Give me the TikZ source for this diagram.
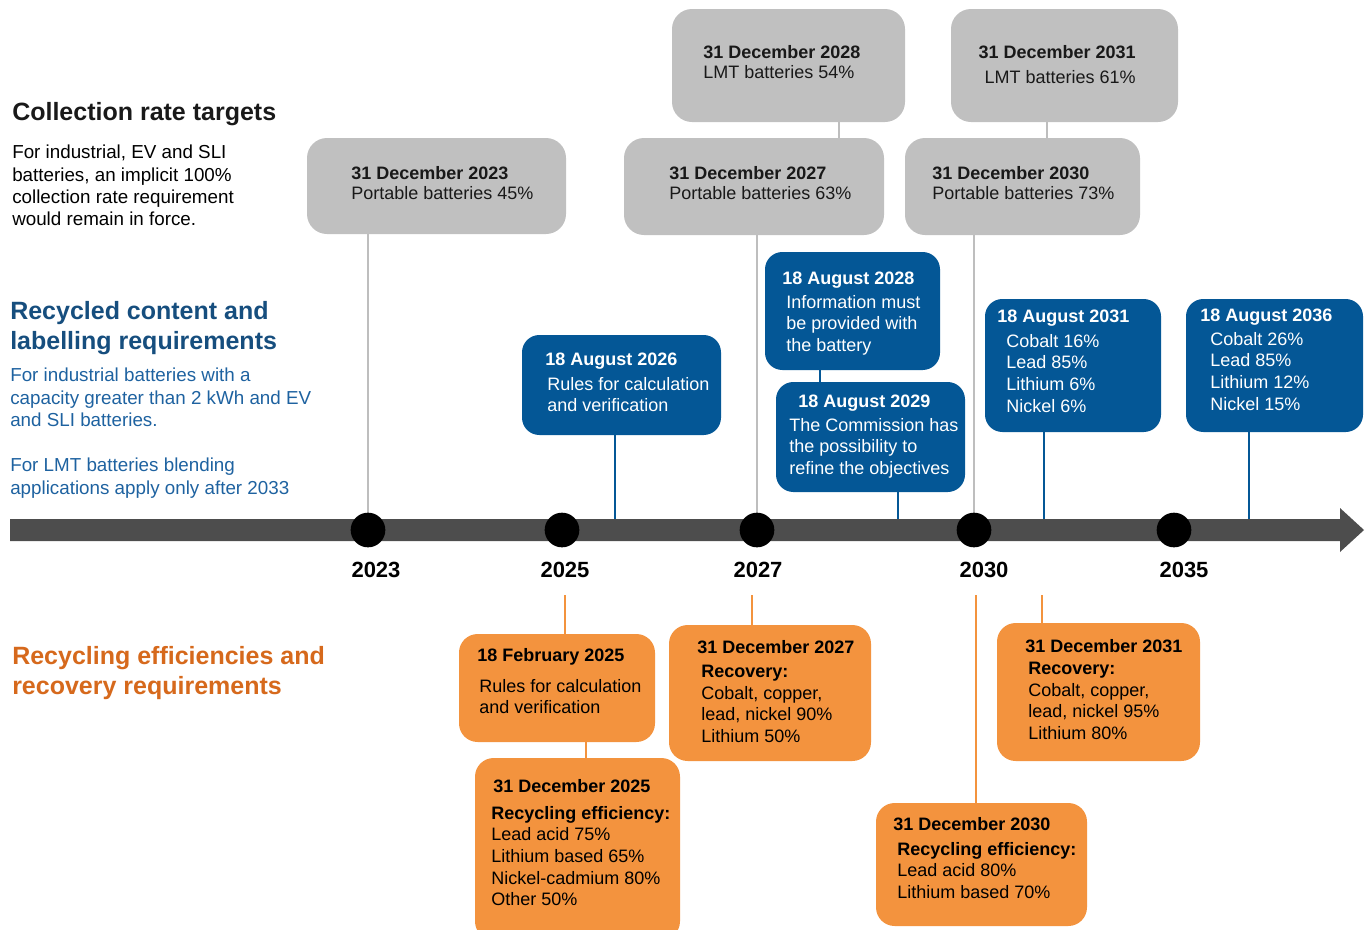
\documentclass[tikz,border=0pt]{standalone}
\usepackage{fontspec}
\setmainfont{Liberation Sans}
\usetikzlibrary{fit}
\definecolor{boxgray}{RGB}{192,192,192}
\definecolor{linegray}{RGB}{190,190,190}
\definecolor{boxblue}{RGB}{4,87,150}
\definecolor{boxorange}{RGB}{243,147,62}
\definecolor{headblue}{RGB}{22,78,126}
\definecolor{textblue}{RGB}{30,98,160}
\definecolor{headorange}{RGB}{214,105,28}
\definecolor{axisgray}{RGB}{77,77,77}
\definecolor{darktext}{RGB}{25,25,25}
\newcommand\fbody{\fontsize{13.5pt}{16.25pt}\selectfont}
\newcommand\fgraybox{\fontsize{13.5pt}{15pt}\selectfont}
\newcommand\fleft{\fontsize{14.1pt}{16.75pt}\selectfont}
\newcommand\fhead{\fontsize{18.75pt}{22.5pt}\selectfont\bfseries}
\newcommand\fyear{\fontsize{16.5pt}{18pt}\selectfont\bfseries}
\tikzset{
  rbox/.style={draw=none, inner sep=0pt, rounded corners=15pt},
  gbox/.style={rbox, fill=boxgray},
  bbox/.style={rbox, fill=boxblue, rounded corners=13pt},
  obox/.style={rbox, fill=boxorange, rounded corners=14pt},
  tx/.style={anchor=north west, inner sep=0pt, align=left, font=\fbody},
  gtx/.style={tx, font=\fgraybox, text=darktext},
  wtitle/.style={tx, font=\fbody\bfseries, text=white},
  wbody/.style={tx, text=white},
  ktitle/.style={tx, font=\fbody\bfseries, text=black},
  kbody/.style={tx, text=black},
  gline/.style={draw=linegray, line width=1.5pt},
  bline/.style={draw=boxblue, line width=1.5pt},
  oline/.style={draw=boxorange, line width=1.8pt},
  dot/.style={circle, fill=black, minimum size=26pt, inner sep=0pt},
  year/.style={inner sep=0pt, font=\fyear, text=black},
}
\begin{document}
\begin{tikzpicture}[x=0.75pt, y=-0.75pt]
\useasboundingbox (0,0) rectangle (1371,929);

% ---------- left column texts
\node[tx, font=\fhead, text=darktext] (h1) at (12,102) {Collection rate targets};
\node[tx, font=\fleft, text=black] (p1) at (12,145) {For industrial, EV and SLI\\batteries, an implicit 100\%\\collection rate requirement\\would remain in force.};
\node[tx, font=\fhead, text=headblue] (h2) at (10,301) {Recycled content and\\labelling requirements};
\node[tx, font=\fleft, text=textblue] (p2) at (10,368) {For industrial batteries with a\\capacity greater than 2 kWh and EV\\and SLI batteries.};
\node[tx, font=\fleft, text=textblue] (p3) at (10,458) {For LMT batteries blending\\applications apply only after 2033};
\node[tx, font=\fhead, text=headorange] (h3) at (12,646) {Recycling efficiencies and\\recovery requirements};

% ---------- dots (positions)
\coordinate (c23) at (368,530);
\coordinate (c25) at (562,530);
\coordinate (c27) at (757,530);
\coordinate (c30) at (974,530);
\coordinate (c35) at (1174,530);

% ---------- gray boxes
\node[gbox, fit={(307,138) (566,234)}] (g23) {};
\node[gbox, fit={(624,138) (884,235)}] (g27) {};
\node[gbox, fit={(672,9) (905,122)}] (g28) {};
\node[gbox, fit={(905,138) (1140,235)}] (g30) {};
\node[gbox, fit={(951,9) (1178,122)}] (g31) {};
\node[gtx] (t23) at (351,166) {\textbf{31 December 2023}\\Portable batteries 45\%};
\node[gtx] (t27) at (669,166) {\textbf{31 December 2027}\\Portable batteries 63\%};
\node[gtx] (t28) at (703,45) {\textbf{31 December 2028}\\LMT batteries 54\%};
\node[gtx] (t30) at (932,166) {\textbf{31 December 2030}\\Portable batteries 73\%};
\node[gtx, anchor=north east, align=right] (t31) at (1136,45) {\textbf{31 December 2031}\\[3.75pt]LMT batteries 61\%};

% ---------- blue boxes
\node[bbox, fit={(522,335) (721,435)}] (a26) {};
\node[bbox, fit={(765,252) (940,370)}] (a28) {};
\node[bbox, fit={(776,382) (965,492)}] (a29) {};
\node[bbox, fit={(985,299) (1161,432)}] (a31) {};
\node[bbox, fit={(1186,299) (1363,432)}] (a36) {};
\node[wtitle] (a26t) at (545,353) {18 August 2026};
\node[wbody] (a26b) at (547,377) {Rules for calculation\\and verification};
\node[wtitle] (a28t) at (782,272) {18 August 2028};
\node[wbody] (a28b) at (786,295) {Information must\\be provided with\\the battery};
\node[wtitle] (a29t) at (798,395) {18 August 2029};
\node[wbody] (a29b) at (789,418) {The Commission has\\the possibility to\\refine the objectives};
\node[wtitle] (a31t) at (997,310) {18 August 2031};
\node[wbody] (a31b) at (1006,334) {Cobalt 16\%\\Lead 85\%\\Lithium 6\%\\Nickel 6\%};
\node[wtitle] (a36t) at (1200,309) {18 August 2036};
\node[wbody] (a36b) at (1210,332) {Cobalt 26\%\\Lead 85\%\\Lithium 12\%\\Nickel 15\%};

% ---------- orange boxes
\node[obox, fit={(459,634) (655,742)}] (f25) {};
\node[obox, fit={(475,758) (680,940)}] (o25) {};
\node[obox, fit={(669,625) (871,761)}] (o27) {};
\node[obox, fit={(876,803) (1087,926)}] (o30) {};
\node[obox, fit={(997,623) (1200,761)}] (o31) {};
\node[ktitle] (f25t) at (477,648) {18 February 2025};
\node[kbody] (f25b) at (479,679) {Rules for calculation\\and verification};
\node[ktitle] (o25t) at (493,779) {31 December 2025};
\node[kbody] (o25b) at (491,806) {\textbf{Recycling efficiency:}\\Lead acid 75\%\\Lithium based 65\%\\Nickel-cadmium 80\%\\Other 50\%};
\node[ktitle] (o27t) at (697,640) {31 December 2027};
\node[kbody] (o27b) at (701,665) {\textbf{Recovery:}\\Cobalt, copper,\\lead, nickel 90\%\\Lithium 50\%};
\node[ktitle] (o30t) at (893,817) {31 December 2030};
\node[kbody] (o30b) at (897,842) {\textbf{Recycling efficiency:}\\Lead acid 80\%\\Lithium based 70\%};
\node[ktitle] (o31t) at (1025,639) {31 December 2031};
\node[kbody] (o31b) at (1028,662) {\textbf{Recovery:}\\Cobalt, copper,\\lead, nickel 95\%\\Lithium 80\%};

% ---------- connector x positions
\coordinate (k28) at (839,0);
\coordinate (k31) at (1047,0);
\coordinate (x26) at (615,530);
\coordinate (x28) at (820,0);
\coordinate (x29) at (898,530);
\coordinate (x31) at (1044,530);
\coordinate (x36) at (1249,530);
\coordinate (q25) at (565,595);
\coordinate (q27) at (752,595);
\coordinate (q30) at (976,595);
\coordinate (q31) at (1042,595);
\coordinate (q25b) at (586,0);

% ---------- connectors
\draw[gline] (c23 |- g23.south) -- (c23);
\draw[gline] (c27 |- g27.south) -- (c27);
\draw[gline] (c30 |- g30.south) -- (c30);
\draw[gline] (k28 |- g28.south) -- (k28 |- g27.north);
\draw[gline] (k31 |- g31.south) -- (k31 |- g30.north);
\draw[bline] (x26 |- a26.south) -- (x26);
\draw[bline] (x28 |- a28.south) -- (x28 |- a29.north);
\draw[bline] (x29 |- a29.south) -- (x29);
\draw[bline] (x31 |- a31.south) -- (x31);
\draw[bline] (x36 |- a36.south) -- (x36);
\draw[oline] (q25) -- (q25 |- f25.north);
\draw[oline] (q27) -- (q27 |- o27.north);
\draw[oline] (q30) -- (q30 |- o30.north);
\draw[oline] (q31) -- (q31 |- o31.north);
\draw[oline] (q25b |- f25.south) -- (q25b |- o25.north);

% ---------- axis
\fill[axisgray] (10,519) -- (1340,519) -- (1340,508) -- (1364,530) -- (1340,552) -- (1340,541) -- (10,541) -- cycle;
\node[dot] (d23) at (c23) {};
\node[dot] (d25) at (c25) {};
\node[dot] (d27) at (c27) {};
\node[dot] (d30) at (c30) {};
\node[dot] (d35) at (c35) {};
\node[year] (y23) at (376,570) {2023};
\node[year] (y25) at (565,570) {2025};
\node[year] (y27) at (758,570) {2027};
\node[year] (y30) at (984,570) {2030};
\node[year] (y35) at (1184,570) {2035};
\end{tikzpicture}
\end{document}
